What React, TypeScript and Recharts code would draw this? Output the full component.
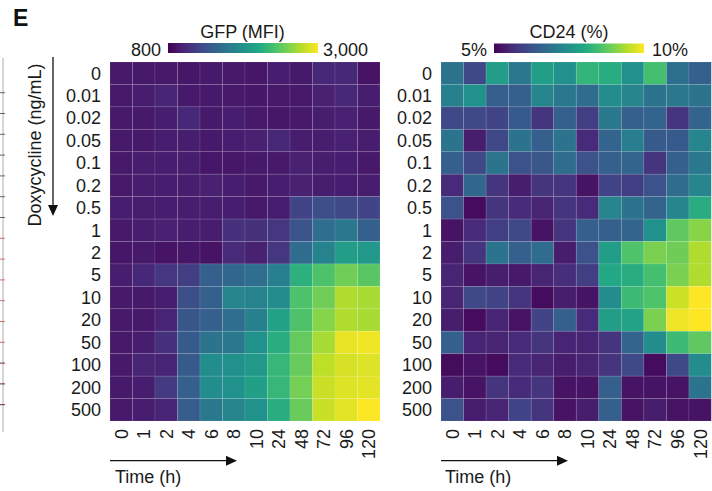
import React from 'react';
import { ScatterChart, Scatter, XAxis, YAxis } from 'recharts';

// ---------- data ----------
const TIMES = ['0', '1', '2', '4', '6', '8', '10', '24', '48', '72', '96', '120'];
const DOX = ['0', '0.01', '0.02', '0.05', '0.1', '0.2', '0.5', '1', '2', '5', '10', '20', '50', '100', '200', '500'];

const GFP_MIN = 800;
const GFP_MAX = 3000;
const CD24_MIN = 5;
const CD24_MAX = 10;

// GFP (MFI), rows = doxycycline, columns = time
const GFP_MFI: number[][] = [
  [950, 950, 950, 930, 950, 950, 930, 980, 950, 1040, 1040, 910],
  [950, 980, 1020, 950, 950, 950, 930, 950, 950, 1000, 1040, 980],
  [950, 950, 980, 1040, 950, 980, 950, 930, 950, 980, 1000, 950],
  [950, 950, 980, 980, 950, 980, 1000, 1040, 980, 980, 1000, 980],
  [950, 980, 980, 980, 930, 930, 950, 950, 1000, 980, 980, 950],
  [950, 980, 980, 980, 1000, 980, 950, 980, 1000, 980, 980, 980],
  [980, 980, 980, 980, 980, 980, 950, 980, 1240, 1330, 1280, 1240],
  [950, 980, 1000, 980, 980, 1110, 1110, 1150, 1370, 1590, 1680, 1460],
  [930, 950, 910, 930, 910, 1060, 1000, 1150, 1570, 1770, 2010, 1970],
  [980, 1040, 1150, 1200, 1460, 1530, 1590, 1750, 2190, 2380, 2520, 2430],
  [950, 950, 980, 1330, 1460, 1790, 1770, 1860, 2380, 2520, 2740, 2710],
  [950, 950, 1020, 1390, 1460, 1590, 1750, 2050, 2380, 2600, 2740, 2710],
  [950, 980, 1110, 1420, 1640, 1680, 1900, 2160, 2470, 2710, 2930, 2960],
  [950, 1020, 1020, 1420, 1860, 1900, 1970, 2250, 2490, 2780, 2870, 2890],
  [950, 980, 1170, 1460, 1860, 1900, 2030, 2250, 2540, 2820, 2890, 2910],
  [950, 980, 1020, 1440, 1680, 1790, 1900, 2160, 2490, 2820, 2910, 3000],
];

// CD24 (%), rows = doxycycline, columns = time
const CD24_PCT: number[][] = [
  [6.9, 6.1, 7.75, 7.0, 7.75, 7.5, 8.25, 8.1, 7.5, 8.5, 6.85, 6.5],
  [7.15, 7.5, 6.5, 6.5, 7.25, 7.0, 6.75, 7.4, 7.25, 6.9, 7.0, 6.9],
  [6.1, 6.1, 6.0, 6.4, 5.75, 6.5, 5.9, 7.0, 6.5, 6.6, 5.75, 6.6],
  [6.9, 5.4, 6.1, 6.9, 6.5, 6.9, 5.6, 6.6, 7.1, 6.4, 6.4, 7.25],
  [6.5, 6.1, 6.9, 6.25, 6.35, 6.75, 6.25, 6.5, 6.6, 5.75, 6.5, 7.0],
  [5.6, 6.65, 5.75, 5.4, 5.75, 5.75, 5.25, 6.0, 5.9, 6.25, 6.75, 7.25],
  [6.25, 5.15, 5.75, 5.6, 5.5, 5.75, 5.6, 7.25, 6.9, 6.6, 7.25, 8.1],
  [5.25, 5.6, 5.9, 6.1, 5.25, 5.75, 6.5, 6.5, 6.6, 7.5, 8.75, 9.1],
  [5.4, 5.75, 6.9, 6.5, 6.75, 5.4, 6.25, 7.75, 8.6, 9.0, 8.9, 9.4],
  [5.5, 5.25, 5.4, 5.35, 5.5, 5.65, 5.9, 8.0, 8.1, 8.5, 9.0, 9.4],
  [5.5, 6.1, 6.0, 5.75, 5.15, 5.4, 5.25, 7.4, 8.4, 8.6, 9.6, 10.0],
  [5.4, 5.15, 5.5, 5.25, 6.0, 6.5, 5.6, 7.75, 7.9, 9.0, 9.9, 10.0],
  [6.5, 5.5, 5.5, 5.6, 5.75, 5.5, 5.5, 5.75, 6.6, 7.4, 8.4, 8.75],
  [5.15, 5.25, 5.15, 5.6, 5.5, 5.4, 5.5, 5.75, 6.1, 5.15, 6.1, 7.4],
  [5.4, 5.25, 5.75, 5.6, 5.75, 5.25, 5.25, 6.5, 5.25, 5.25, 5.25, 6.9],
  [6.25, 5.4, 5.5, 6.0, 5.75, 5.25, 5.4, 6.5, 5.25, 5.4, 5.25, 5.25],
];

// ---------- colour ----------
const VIRIDIS = ['#440154', '#482475', '#414487', '#355f8d', '#2a788e', '#21918c', '#22a884', '#44bf70', '#7ad151', '#bddf26', '#fde725'];

function hexToRgb(h: string) {
  return [parseInt(h.slice(1, 3), 16), parseInt(h.slice(3, 5), 16), parseInt(h.slice(5, 7), 16)];
}

function viridis(t: number) {
  const c = Math.max(0, Math.min(1, t));
  const s = c * (VIRIDIS.length - 1);
  const i = Math.min(VIRIDIS.length - 2, Math.floor(s));
  const f = s - i;
  const a = hexToRgb(VIRIDIS[i]);
  const b = hexToRgb(VIRIDIS[i + 1]);
  const r = a.map((v, k) => Math.round(v + (b[k] - v) * f));
  return `rgb(${r[0]},${r[1]},${r[2]})`;
}

function toCells(grid: number[][], min: number, max: number) {
  const out: { x: number; y: number; value: number; color: string }[] = [];
  grid.forEach((row, r) =>
    row.forEach((v, c) => out.push({ x: c, y: r, value: v, color: viridis((v - min) / (max - min)) }))
  );
  return out;
}

const gfpCells = toCells(GFP_MFI, GFP_MIN, GFP_MAX);
const cd24Cells = toCells(CD24_PCT, CD24_MIN, CD24_MAX);

// ---------- layout ----------
const W = 712;
const H = 491;
const TOP = 62;
const BOTTOM = 421;
const LEFT_A = 110;
const RIGHT_A = 380;
const LEFT_B = 441;
const RIGHT_B = 711.5;
const FONT = '"Liberation Sans", Arial, Helvetica, sans-serif';
const TEXT = '#1a1a1a';

const xTicks = TIMES.map((_, i) => i);
const yTicks = DOX.map((_, i) => i);

function makeCellShape(cw: number, ch: number) {
  return (props: any) => {
    const { cx, cy, payload } = props;
    return (
      <rect
        x={cx - cw / 2}
        y={cy - ch / 2}
        width={cw}
        height={ch}
        fill={payload.color}
        stroke="rgba(255,255,255,0.12)"
        strokeWidth={0.8}
      />
    );
  };
}

function makeYTick(labelX: number) {
  return (props: any) => {
    const { y, payload } = props;
    return (
      <text x={labelX} y={y} dy="0.35em" textAnchor="end" fontSize={18} fontFamily={FONT} fill={TEXT}>
        {DOX[payload.value]}
      </text>
    );
  };
}

const XTick = (props: any) => {
  const { x, payload } = props;
  return (
    <g transform={`translate(${x},${BOTTOM + 8})`}>
      <text transform="rotate(-90)" textAnchor="end" dy="0.35em" fontSize={18} fontFamily={FONT} fill={TEXT}>
        {TIMES[payload.value]}
      </text>
    </g>
  );
};

function Heatmap({ cells, left, right }: { cells: any[]; left: number; right: number }) {
  const cw = (right - left) / TIMES.length;
  const ch = (BOTTOM - TOP) / DOX.length;
  const yAxisW = 60;
  return (
    <div style={{ position: 'absolute', left: 0, top: 0 }}>
      <ScatterChart
        width={W}
        height={H}
        margin={{ top: TOP, right: W - right, bottom: H - BOTTOM - 40, left: left - yAxisW }}
      >
        <XAxis
          type="number"
          dataKey="x"
          domain={[-0.5, TIMES.length - 0.5]}
          ticks={xTicks}
          interval={0}
          allowDataOverflow
          axisLine={false}
          tickLine={false}
          height={40}
          tick={XTick}
        />
        <YAxis
          type="number"
          dataKey="y"
          domain={[-0.5, DOX.length - 0.5]}
          ticks={yTicks}
          interval={0}
          reversed
          allowDataOverflow
          axisLine={false}
          tickLine={false}
          width={yAxisW}
          tick={makeYTick(left - 9)}
        />
        <Scatter data={cells} shape={makeCellShape(cw, ch)} isAnimationActive={false} />
      </ScatterChart>
    </div>
  );
}

function Arrow({ x1, y1, x2, y2 }: { x1: number; y1: number; x2: number; y2: number }) {
  const len = Math.hypot(x2 - x1, y2 - y1);
  const ux = (x2 - x1) / len;
  const uy = (y2 - y1) / len;
  const hl = 11;
  const hw = 5;
  const bx = x2 - ux * hl;
  const by = y2 - uy * hl;
  return (
    <g>
      <line x1={x1} y1={y1} x2={bx} y2={by} stroke="#111" strokeWidth={1.3} />
      <polygon
        points={`${x2},${y2} ${bx - uy * hw},${by + ux * hw} ${bx + uy * hw},${by - ux * hw}`}
        fill="#111"
      />
    </g>
  );
}

const remnantTicks = Array.from({ length: 16 }, (_, i) => i);

function Overlay() {
  return (
    <svg width={W} height={H} style={{ position: 'absolute', left: 0, top: 0, pointerEvents: 'none' }}>
      <defs>
        <linearGradient id="vir" x1="0" x2="1" y1="0" y2="0">
          {VIRIDIS.map((c, i) => (
            <stop key={i} offset={i / (VIRIDIS.length - 1)} stopColor={c} />
          ))}
        </linearGradient>
      </defs>
      {/* cropped neighbour panel edge */}
      <line x1={3} y1={58} x2={3} y2={432} stroke="#aaa" strokeWidth={1} />
      {remnantTicks.map((i) => (
        <line
          key={i}
          x1={0}
          x2={5}
          y1={92.7 + 20.8 * i}
          y2={92.7 + 20.8 * i}
          stroke={i < 7 ? '#666' : i < 13 ? '#d97070' : '#6a2a2a'}
          strokeWidth={1}
        />
      ))}
      <text x={13} y={26} fontSize={23} fontWeight="bold" fontFamily={FONT} fill="#111">E</text>

      {/* colour bars */}
      <text x={242.5} y={37.5} textAnchor="middle" fontSize={18} fontFamily={FONT} fill={TEXT}>GFP (MFI)</text>
      <rect x={168} y={43} width={150} height={10} fill="url(#vir)" />
      <text x={161} y={55.5} textAnchor="end" fontSize={18} fontFamily={FONT} fill={TEXT}>800</text>
      <text x={323} y={55.5} textAnchor="start" fontSize={18} fontFamily={FONT} fill={TEXT}>3,000</text>

      <text x={569} y={37.5} textAnchor="middle" fontSize={18} fontFamily={FONT} fill={TEXT}>CD24 (%)</text>
      <rect x={494} y={43.5} width={150} height={9.5} fill="url(#vir)" />
      <text x={487} y={55.5} textAnchor="end" fontSize={18} fontFamily={FONT} fill={TEXT}>5%</text>
      <text x={652} y={55.5} textAnchor="start" fontSize={18} fontFamily={FONT} fill={TEXT}>10%</text>

      {/* y axis label + arrow */}
      <text
        transform="translate(41,145) rotate(-90)"
        textAnchor="middle"
        fontSize={18}
        fontFamily={FONT}
        fill={TEXT}
      >
        Doxycycline (ng/mL)
      </text>
      <Arrow x1={53} y1={57} x2={53} y2={216} />

      {/* time arrows */}
      <Arrow x1={110} y1={460.7} x2={237} y2={460.7} />
      <text x={115} y={483} fontSize={18} fontFamily={FONT} fill={TEXT}>Time (h)</text>
      <Arrow x1={441} y1={460.7} x2={568} y2={460.7} />
      <text x={445} y={483} fontSize={18} fontFamily={FONT} fill={TEXT}>Time (h)</text>
    </svg>
  );
}

export default function App() {
  return (
    <div style={{ position: 'absolute', left: 0, top: 0, width: W, height: H, background: '#fff', overflow: 'hidden' }}>
      <Heatmap cells={gfpCells} left={LEFT_A} right={RIGHT_A} />
      <Heatmap cells={cd24Cells} left={LEFT_B} right={RIGHT_B} />
      <Overlay />
    </div>
  );
}
